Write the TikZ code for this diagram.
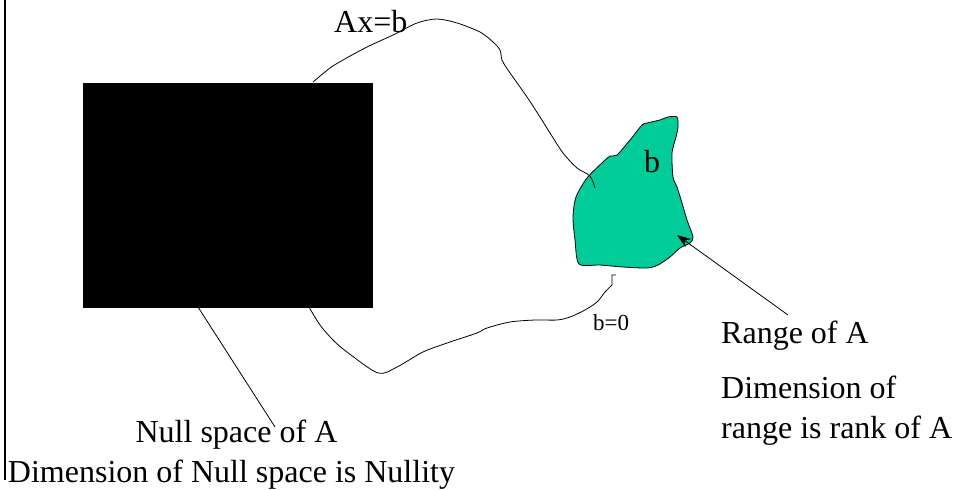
\documentclass[tikz,border=0pt]{standalone}
\usepackage{fontspec}
\setmainfont{Liberation Serif}
\usetikzlibrary{arrows.meta}
\definecolor{rangegreen}{RGB}{0,204,153}
\tikzset{
  lbl/.style={font=\fontsize{32}{36}\selectfont, inner sep=0pt, anchor=base west},
  lblc/.style={font=\fontsize{32}{36}\selectfont, inner sep=0pt, anchor=base},
  small/.style={font=\fontsize{23}{26}\selectfont, inner sep=0pt, anchor=base west},
  curve/.style={line width=0.8pt, black},
}
\begin{document}
\begin{tikzpicture}[x=1pt,y=-1pt]
\useasboundingbox (0,0) rectangle (956,490);
% left border line
\draw[line width=2pt] (4.5,0) -- (4.5,480);
% null space box
\node[fill=black, draw=black, minimum width=289pt, minimum height=224pt, inner sep=0pt, anchor=north west] (nullbox) at (83,83) {};
% range blob
\draw[curve, fill=rangegreen] plot[smooth cycle, tension=0.45] coordinates {
 (579,264) (575,240) (573,217) (576,197) (587,178) (603,162) (610,156) (617,155)
 (630,140) (642,125) (647,123) (660,120) (668,117) (677,117) (678,127) (676,137)
 (672,153) (673,177) (677,187) (682,203) (687,220) (693,237) (690,243) (680,248)
 (670,257) (658,265) (647,268) (623,267) (600,265)};
% coordinates
\coordinate (topstart) at (313,82);
\coordinate (botstart) at (309,307);
\coordinate (nullfoot) at (198,307);
\coordinate (nulltip) at (275,427);
\coordinate (rangetail) at (788,315);
\coordinate (blobtip) at (677,235);
% Ax=b curve
\draw[curve] plot[smooth, tension=0.5] coordinates {
 (topstart) (330,68) (343,60) (367,47) (393,35) (417,23) (437,19) (457,23) (480,32)
 (493,42) (500,50) (502,60) (508,70) (527,97) (540,117) (550,133) (563,153)
 (577,168) (590,176) (595,188)};
% b=0 curve
\draw[curve] plot[smooth, tension=0.5] coordinates {
 (botstart) (320,325) (333,340) (347,352) (378,373) (397,367) (423,352) (450,342)
 (477,333) (487,328) (510,322) (535,320) (557,320) (570,317) (585,310) (597,302)
 (605,292) (612,285)} -- (612,275) -- (616,275);
% null space pointer
\draw[curve] (nullfoot) -- (nulltip);
% range arrow
\draw[curve, -{Stealth[length=14pt, width=10pt]}] (rangetail) -- (blobtip);
% labels
\node[lbl] (axb) at (334,32) {Ax=b};
\node[lbl] (bin) at (644,172) {b};
\node[small] (bzero) at (593,330) {b=0};
\node[lblc] (null1) at (236.5,442) {Null space of A};
\node[lblc] (null2) at (231.5,482) {Dimension of Null space is Nullity};
\node[lbl] (range1) at (721,343) {Range of A};
\node[lbl] (range2) at (721,398) {Dimension of};
\node[lbl] (range3) at (721,438) {range is rank of A};
\end{tikzpicture}
\end{document}
